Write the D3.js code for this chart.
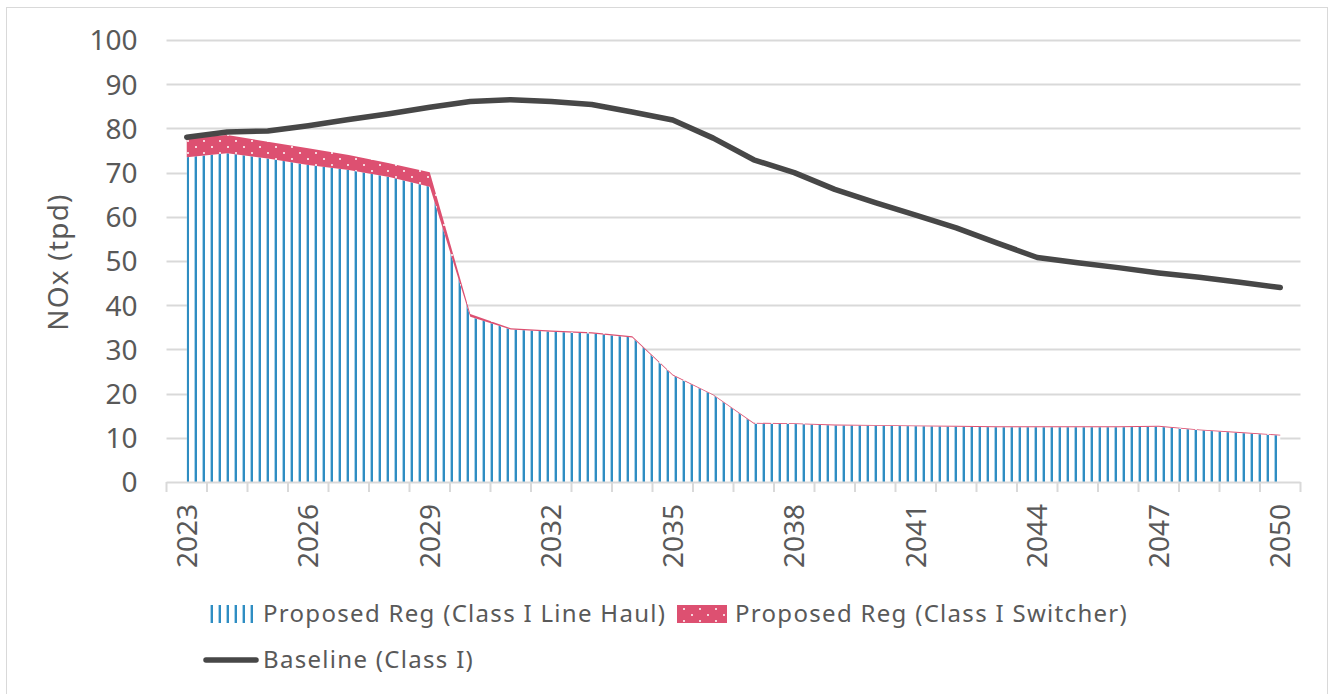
<!doctype html>
<html>
<head>
    <title>NOx emissions</title>
    <script src="https://cdn.jsdelivr.net/npm/d3@7"></script>
    <style>
      body { margin: 0; background: white; }
      text { font-family: "Noto Sans", Lato, sans-serif; fill: #595959; }
      .leg { font-size: 24px; letter-spacing: 1.3px; }
    </style>
</head>
<body>
    <script>
    var width = 1330, height = 694;

    var years = d3.range(2023, 2051);
    var lineHaul = [73.5, 74.4, 73.2, 71.7, 70.6, 69.0, 66.8, 37.4, 34.5, 34.0, 33.6, 32.7, 24.1, 19.6,
                    13.2, 13.1, 12.8, 12.7, 12.6, 12.5, 12.4, 12.4, 12.4, 12.4, 12.5, 11.7, 11.1, 10.5];
    var switcher = [4.3, 4.1, 3.8, 3.8, 3.4, 3.1, 3.3, 0.6, 0.3, 0.3, 0.3, 0.3, 0.2, 0.2,
                    0.2, 0.2, 0.2, 0.2, 0.2, 0.2, 0.2, 0.2, 0.2, 0.2, 0.2, 0.2, 0.2, 0.2];
    var baseline = [78.0, 79.2, 79.4, 80.6, 82.0, 83.3, 84.8, 86.1, 86.5, 86.1, 85.4, 83.7, 81.9, 77.8,
                    72.9, 70.0, 66.2, 63.2, 60.4, 57.5, 54.1, 50.8, 49.6, 48.5, 47.3, 46.3, 45.2, 44.0];
    var yTicks = d3.range(0, 101, 10);
    var keys = ["lineHaul", "switcher"];

    var margin = {left: 166.5, right: 29.5, top: 40, bottom: 212};

    var svg = d3.select("body").append("svg")
                .attr("width", width)
                .attr("height", height);

    // chart frame
    svg.append("rect")
       .attr("x", 6.5).attr("y", 7.5)
       .attr("width", 1321).attr("height", 700)
       .attr("fill", "white").attr("stroke", "#d9d9d9");

    var defs = svg.append("defs");
    var stripes = defs.append("pattern")
                      .attr("id", "stripes")
                      .attr("patternUnits", "userSpaceOnUse")
                      .attr("x", 186).attr("width", 8).attr("height", 8);
    stripes.append("rect").attr("width", 8).attr("height", 8).attr("fill", "white");
    stripes.append("rect").attr("x", 0).attr("width", 1).attr("height", 8).attr("fill", "#a9d3ea");
    stripes.append("rect").attr("x", 1).attr("width", 2).attr("height", 8).attr("fill", "#2f8dc2");

    var dots = defs.append("pattern")
                   .attr("id", "dots")
                   .attr("patternUnits", "userSpaceOnUse")
                   .attr("width", 16).attr("height", 12);
    dots.append("rect").attr("width", 16).attr("height", 12).attr("fill", "#dd5071");
    dots.append("circle").attr("cx", 4).attr("cy", 3).attr("r", 1).attr("fill", "white");
    dots.append("circle").attr("cx", 12).attr("cy", 9).attr("r", 1).attr("fill", "white");

    var x = d3.scaleBand()
              .domain(years)
              .range([margin.left, width - margin.right]);
    var y = d3.scaleLinear()
              .domain([0, 100])
              .range([482, margin.top]);

    // gridlines
    svg.append("g").selectAll("line")
       .data(yTicks.slice(1))
       .enter().append("line")
       .attr("x1", margin.left).attr("x2", width - margin.right)
       .attr("y1", function(d){ return Math.round(y(d)) + 0.5; })
       .attr("y2", function(d){ return Math.round(y(d)) + 0.5; })
       .attr("stroke", "#d9d9d9").attr("stroke-width", 2);

    var yAxis = svg.append("g")
                   .attr("transform", "translate(" + margin.left + ",0)")
                   .call(d3.axisLeft(y).tickValues(yTicks).tickSize(0).tickPadding(29));
    yAxis.select(".domain").remove();
    yAxis.selectAll("text").style("font-size", "28px").attr("dy", "0.35em");

    var rows = years.map(function(yr, i){
      return {year: yr, lineHaul: lineHaul[i], switcher: switcher[i]};
    });
    var series = d3.stack().keys(keys)(rows);
    var cx = function(d){ return x(d.data.year) + x.bandwidth() / 2; };
    var area = d3.area()
                 .x(cx)
                 .y0(function(d){ return y(d[0]); })
                 .y1(function(d){ return y(d[1]); });

    svg.append("g").selectAll("path")
       .data(series)
       .enter().append("path")
       .attr("d", area)
       .attr("fill", function(d){ return d.key == "lineHaul" ? "url(#stripes)" : "url(#dots)"; });

    var line = d3.line()
                 .x(function(d, i){ return x(years[i]) + x.bandwidth() / 2; })
                 .y(function(d){ return y(d); });
    svg.append("path")
       .datum(baseline)
       .attr("d", line)
       .attr("fill", "none")
       .attr("stroke", "#474747")
       .attr("stroke-width", 5.5)
       .attr("stroke-linecap", "round")
       .attr("stroke-linejoin", "round");

    // x axis
    var xAxis = svg.append("g")
                   .attr("transform", "translate(0,482)");
    xAxis.append("line")
         .attr("x1", margin.left).attr("x2", width - margin.right)
         .attr("y1", 0.5).attr("y2", 0.5)
         .attr("stroke", "#d9d9d9").attr("stroke-width", 2);
    xAxis.selectAll(".tk")
         .data(years.concat([2051]))
         .enter().append("line")
         .attr("class", "tk")
         .attr("x1", function(d){ return d == 2051 ? width - margin.right : x(d); })
         .attr("x2", function(d){ return d == 2051 ? width - margin.right : x(d); })
         .attr("y1", 0).attr("y2", 10)
         .attr("stroke", "#d9d9d9").attr("stroke-width", 2);
    xAxis.selectAll(".lbl")
         .data(years.filter(function(d){ return (d - 2023) % 3 == 0; }))
         .enter().append("text")
         .attr("class", "lbl")
         .attr("transform", function(d){
           return "translate(" + (x(d) + x.bandwidth() / 2) + ",22) rotate(-90)";
         })
         .attr("dy", "0.35em")
         .attr("text-anchor", "end")
         .style("font-size", "28px")
         .text(function(d){ return d; });

    svg.append("text")
       .attr("transform", "translate(58,262) rotate(-90)")
       .attr("text-anchor", "middle")
       .attr("dy", "0.35em")
       .style("font-size", "28px")
       .style("letter-spacing", "1.2px")
       .text("NOx (tpd)");

    // legend
    var legend = svg.append("g");
    legend.append("rect")
          .attr("x", 205).attr("y", 605).attr("width", 50).attr("height", 18)
          .attr("fill", "url(#stripes)");
    legend.append("text")
          .attr("class", "leg")
          .attr("x", 263).attr("y", 614).attr("dy", "0.35em")
          .text("Proposed Reg (Class I Line Haul)");
    legend.append("rect")
          .attr("x", 677).attr("y", 605).attr("width", 50).attr("height", 18)
          .attr("fill", "url(#dots)");
    legend.append("text")
          .attr("class", "leg")
          .attr("x", 735).attr("y", 614).attr("dy", "0.35em")
          .text("Proposed Reg (Class I Switcher)");
    legend.append("line")
          .attr("x1", 206).attr("x2", 256).attr("y1", 660).attr("y2", 660)
          .attr("stroke", "#474747").attr("stroke-width", 5.5)
          .attr("stroke-linecap", "round");
    legend.append("text")
          .attr("class", "leg")
          .attr("x", 263).attr("y", 660).attr("dy", "0.35em")
          .text("Baseline (Class I)");
    </script>
</body>
</html>
